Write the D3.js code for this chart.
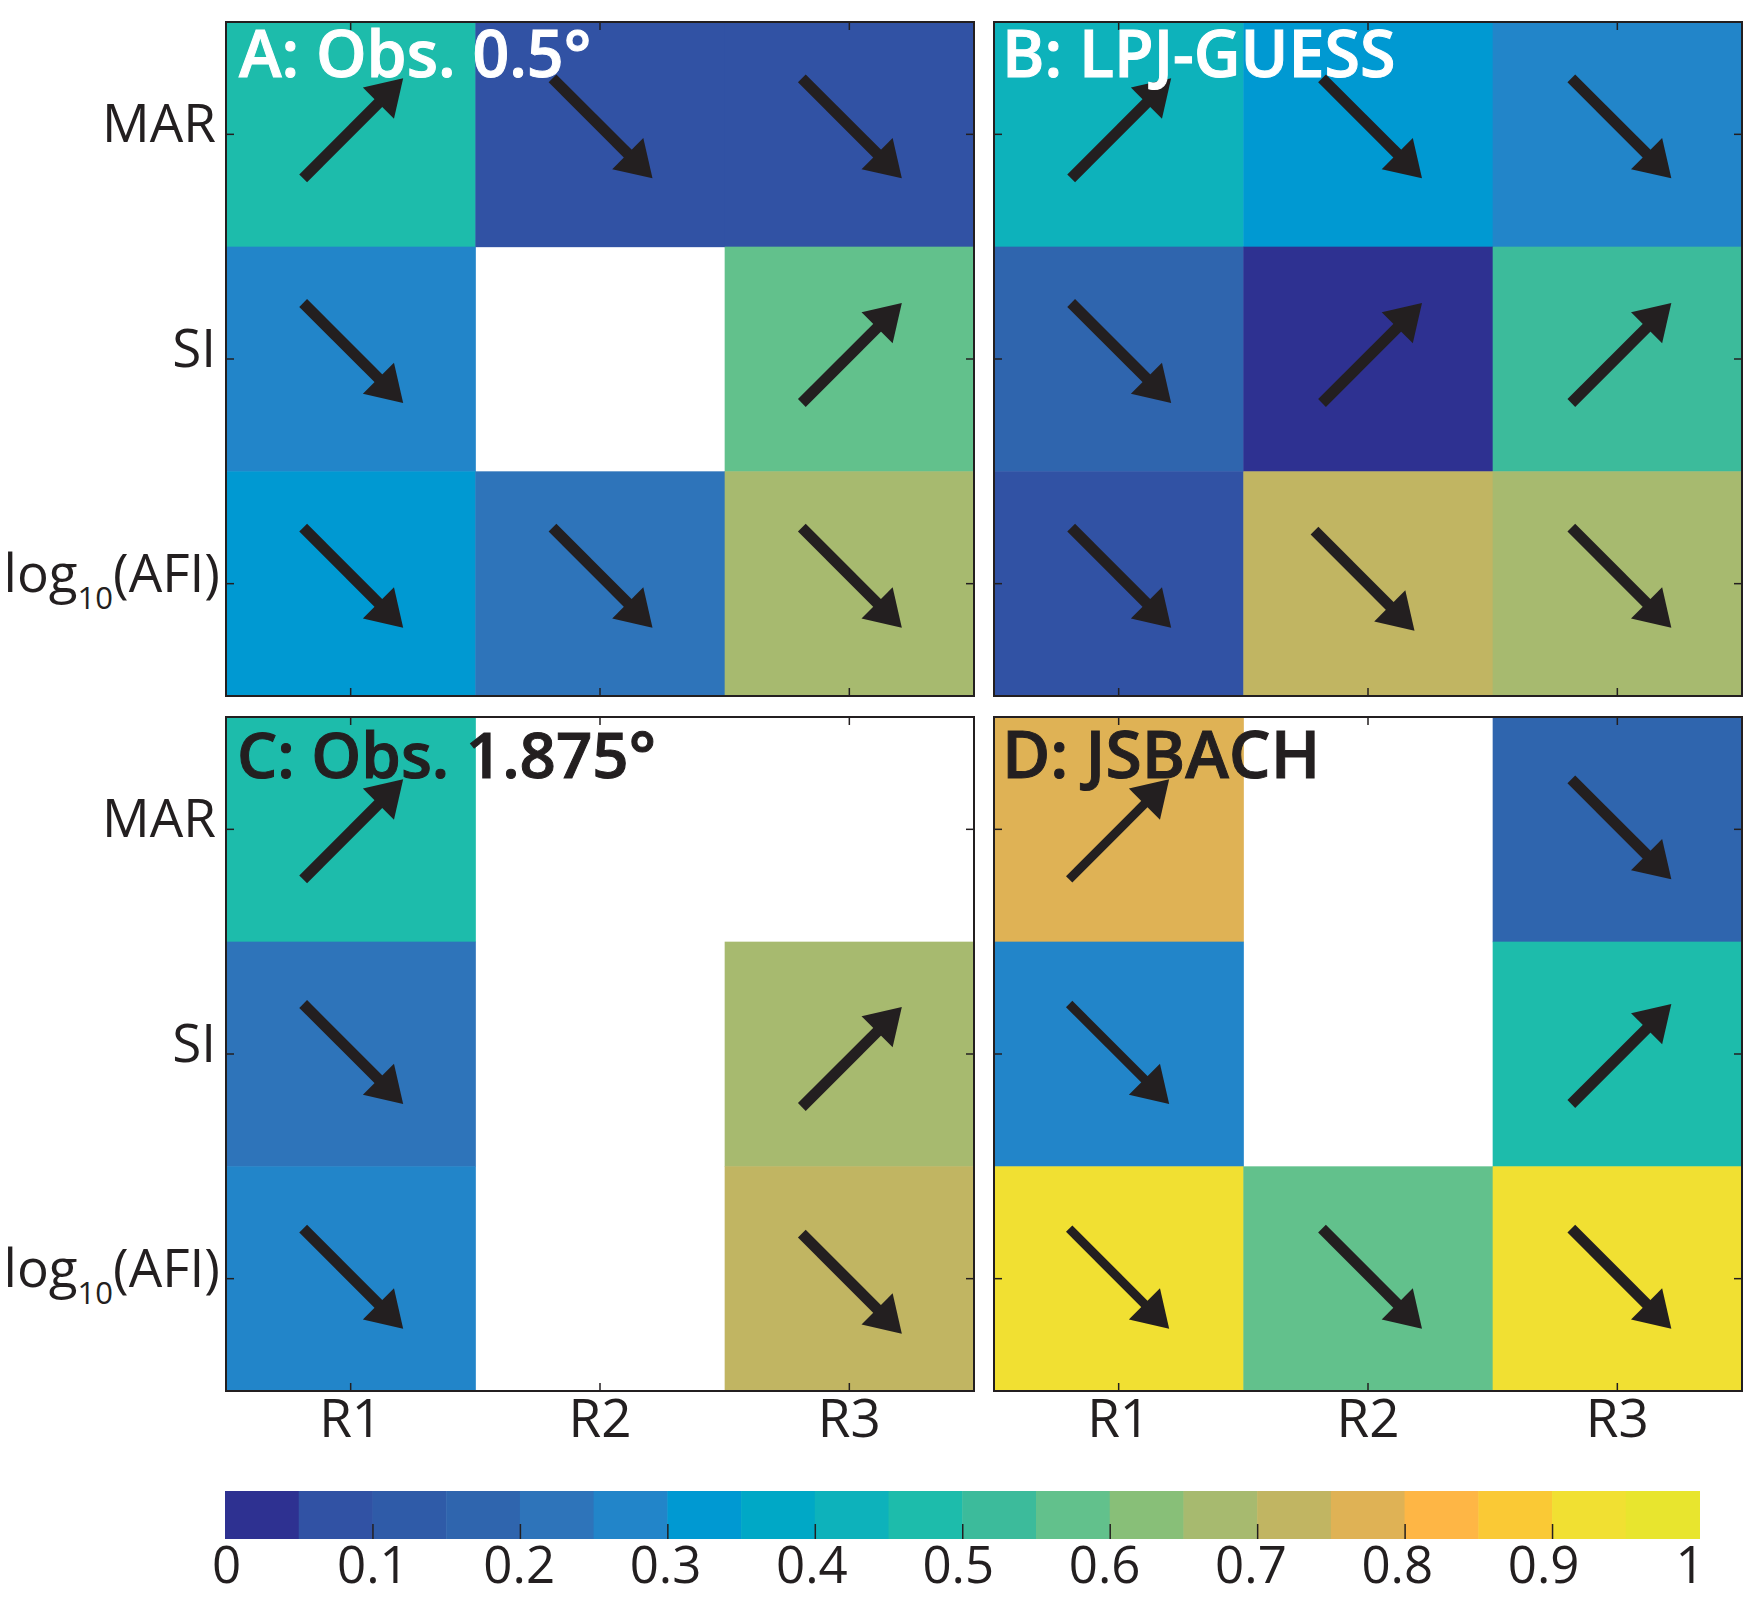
<!DOCTYPE html>
<html>
<head>
<meta charset="utf-8">
<script src="https://cdn.jsdelivr.net/npm/d3@7"></script>
<style>
  html, body { margin: 0; padding: 0; background: #fff; }
  text { font-family: "Open Sans", sans-serif; }
</style>
</head>
<body>
<div id="chart"></div>
<script>
var regions = ["R1", "R2", "R3"];
var metrics = ["MAR", "SI", "log10(AFI)"];

var colorbarTicks = [0, 0.1, 0.2, 0.3, 0.4, 0.5, 0.6, 0.7, 0.8, 0.9, 1];
var colorbarColors = [
  "#2e3191", "#3152a4", "#2f5ba8", "#2f65ae", "#2e74ba",
  "#2285c9", "#0099d2", "#00a8c6", "#0db2bb", "#1dbcab",
  "#3cbb9b", "#62c18c", "#88bf78", "#a7ba6f", "#c1b562",
  "#dfb255", "#feb645", "#fac935", "#f1e032", "#e8e52e"
];

// rows are MAR, SI, log10(AFI); null means a blank cell
var valuesA = [[0.47, 0.07, 0.07], [0.27, null, 0.57], [0.32, 0.22, 0.67]];
var valuesB = [[0.42, 0.32, 0.27], [0.17, 0.02, 0.52], [0.07, 0.72, 0.67]];
var valuesC = [[0.47, null, null], [0.22, null, 0.67], [0.27, null, 0.72]];
var valuesD = [[0.77, null, 0.17], [0.27, null, 0.47], [0.92, 0.57, 0.92]];

// 1 = arrow going up, -1 = arrow going down, 0 = no arrow
var arrowsA = [[1, -1, -1], [-1, 0, 1], [-1, -1, -1]];
var arrowsB = [[1, -1, -1], [-1, 1, 1], [-1, -1, -1]];
var arrowsC = [[1, 0, 0], [-1, 0, 1], [-1, 0, -1]];
var arrowsD = [[1, 0, -1], [-1, 0, 1], [-1, -1, -1]];

var margin = { left: 226, right: 8, gap: 20, top: 22 };
var panelWidth = 748;
var panelHeight = 674;
var dark = "#231f20";

var svg = d3
  .select("#chart")
  .append("svg")
  .attr("width", 1750)
  .attr("height", 1610)
  .attr("viewBox", "0 0 1750 1610");

var color = d3.scaleQuantize().domain([0, 1]).range(colorbarColors);

// arrows were placed by hand in the figure, so they sit a bit off centre
function arrowOffset(id, i, j) {
  var dx = id == "B" && j > 0 ? 4 : id == "D" ? (j == 0 ? 0.5 : 4) : 2.5;
  var dy = id == "A" || id == "B" ? -6 : 0;
  if (id == "B" && i == 2 && j == 1) {
    dx = -3.5;
    dy = -3;
  }
  if (id == "C" && j == 2) dy = i == 1 ? 3 : 5;
  return [dx, dy];
}

function drawPanel(id, title, values, arrows, column, row, style) {
  var g = svg
    .append("g")
    .attr(
      "transform",
      "translate(" +
        (margin.left + column * (panelWidth + margin.gap)) +
        "," +
        (margin.top + row * (panelHeight + margin.gap + 1)) +
        ")",
    );

  var x = d3.scaleBand().domain(regions).range([0, panelWidth]);
  var y = d3.scaleBand().domain(metrics).range([0, panelHeight]);

  // cells
  metrics.forEach(function (metric, i) {
    regions.forEach(function (region, j) {
      if (values[i][j] === null) return;
      g.append("rect")
        .attr("x", x(region))
        .attr("y", y(metric))
        .attr("width", x.bandwidth() + (j < 2 ? 0.5 : 0))
        .attr("height", y.bandwidth() + (i < 2 ? 0.5 : 0))
        .attr("fill", color(values[i][j]));
    });
  });

  // arrows
  metrics.forEach(function (metric, i) {
    regions.forEach(function (region, j) {
      if (arrows[i][j] !== 0) {
        var offset = arrowOffset(id, i, j);
        drawArrow(
          g,
          x(region) + x.bandwidth() / 2 + offset[0],
          y(metric) + y.bandwidth() / 2 + offset[1],
          arrows[i][j],
          id == "D" && j == 0 ? 9 : 11,
        );
      }
    });
  });

  // axes, ticks on all four sides pointing inward
  var axes = [
    d3.axisLeft(y),
    d3.axisRight(y),
    d3.axisTop(x),
    d3.axisBottom(x),
  ];
  var shifts = [
    [0, 0],
    [panelWidth, 0],
    [0, 0],
    [0, panelHeight],
  ];
  axes.forEach(function (axis, i) {
    var a = g
      .append("g")
      .attr("transform", "translate(" + shifts[i][0] + "," + shifts[i][1] + ")")
      .call(axis.tickSizeOuter(0).tickSizeInner(-8).tickFormat(""));
    a.selectAll("line").attr("stroke", dark).attr("stroke-width", 1.5);
    a.select(".domain").remove();
  });

  g.append("rect")
    .attr("width", panelWidth)
    .attr("height", panelHeight)
    .attr("fill", "none")
    .attr("stroke", dark)
    .attr("stroke-width", 2);

  if (column == 0) {
    metrics.forEach(function (metric) {
      var label = g
        .append("text")
        .attr("x", metric == "log10(AFI)" ? -6 : -10)
        .attr("y", y(metric) + y.bandwidth() / 2 + 8)
        .attr("text-anchor", "end")
        .attr("font-size", 53)
        .attr("fill", dark);
      if (metric == "log10(AFI)") {
        label.append("tspan").text("log");
        label
          .append("tspan")
          .attr("font-size", 31)
          .attr("dy", 17)
          .text("10");
        label.append("tspan").attr("dy", -17).text("(AFI)");
      } else {
        label.text(metric);
      }
    });
  }

  if (row == 1) {
    regions.forEach(function (region) {
      g.append("text")
        .attr("x", x(region) + x.bandwidth() / 2)
        .attr("y", panelHeight + 46)
        .attr("text-anchor", "middle")
        .attr("font-size", 53)
        .attr("fill", dark)
        .text(region);
    });
  }

  g.append("text")
    .attr("x", style.titleX)
    .attr("y", style.titleY)
    .attr("font-size", style.titleSize)
    .attr("font-weight", 600)
    .attr("fill", style.titleColor)
    .attr("stroke", style.titleColor)
    .attr("stroke-width", 1)
    .text(title);
}

function drawArrow(g, cx, cy, direction, width) {
  var half = 50;
  var headLength = 35;
  var headWidth = 44;
  var diag = Math.SQRT1_2;
  var tipX = cx + half;
  var tipY = cy - direction * half;
  var ux = diag;
  var uy = -direction * diag;
  var baseX = tipX - ux * headLength;
  var baseY = tipY - uy * headLength;

  g.append("line")
    .attr("x1", cx - half)
    .attr("y1", cy + direction * half)
    .attr("x2", baseX + ux * 2)
    .attr("y2", baseY + uy * 2)
    .attr("stroke", dark)
    .attr("stroke-width", width);

  var head = [
    [tipX, tipY],
    [baseX - (uy * headWidth) / 2, baseY + (ux * headWidth) / 2],
    [baseX + (uy * headWidth) / 2, baseY - (ux * headWidth) / 2],
  ];
  g.append("path")
    .attr("d", d3.line()(head) + "Z")
    .attr("fill", dark);
}

drawPanel("A", "A: Obs. 0.5°", valuesA, arrowsA, 0, 0, {
  titleX: 13,
  titleY: 55,
  titleSize: 64.4,
  titleColor: "#ffffff",
});
drawPanel("B", "B: LPJ-GUESS", valuesB, arrowsB, 1, 0, {
  titleX: 8,
  titleY: 55,
  titleSize: 64.5,
  titleColor: "#ffffff",
});
drawPanel("C", "C: Obs. 1.875°", valuesC, arrowsC, 0, 1, {
  titleX: 11,
  titleY: 61,
  titleSize: 63.6,
  titleColor: dark,
});
drawPanel("D", "D: JSBACH", valuesD, arrowsD, 1, 1, {
  titleX: 8,
  titleY: 61,
  titleSize: 66,
  titleColor: dark,
});

// colorbar
var barTop = 1491;
var barHeight = 48;
var barX = d3.scaleLinear().domain([0, 1]).range([225, 1699.5]);
var labelX = d3.scaleLinear().domain([0, 1]).range([226.5, 1690]);
var bar = svg.append("g");
bar
  .selectAll("rect")
  .data(colorbarColors)
  .enter()
  .append("rect")
  .attr("x", function (d, i) {
    return barX(i / colorbarColors.length);
  })
  .attr("y", barTop)
  .attr("width", function (d, i) {
    return barX((i + 1) / colorbarColors.length) - barX(i / colorbarColors.length) + 0.5;
  })
  .attr("height", barHeight)
  .attr("fill", function (d) {
    return d;
  });

var barAxis = bar
  .append("g")
  .attr("transform", "translate(0," + (barTop + barHeight) + ")")
  .call(
    d3
      .axisBottom(barX)
      .tickValues(colorbarTicks.slice(1, -1))
      .tickSizeOuter(0)
      .tickSizeInner(-15)
      .tickFormat(""),
  );
barAxis.selectAll("line").attr("stroke", dark).attr("stroke-width", 1.5);
barAxis.select(".domain").remove();

bar
  .selectAll(".barLabel")
  .data(colorbarTicks)
  .enter()
  .append("text")
  .attr("class", "barLabel")
  .attr("x", function (d) {
    return labelX(d);
  })
  .attr("y", 1583)
  .attr("text-anchor", "middle")
  .attr("font-size", 51)
  .attr("fill", dark)
  .text(function (d) {
    return d;
  });
</script>
</body>
</html>
